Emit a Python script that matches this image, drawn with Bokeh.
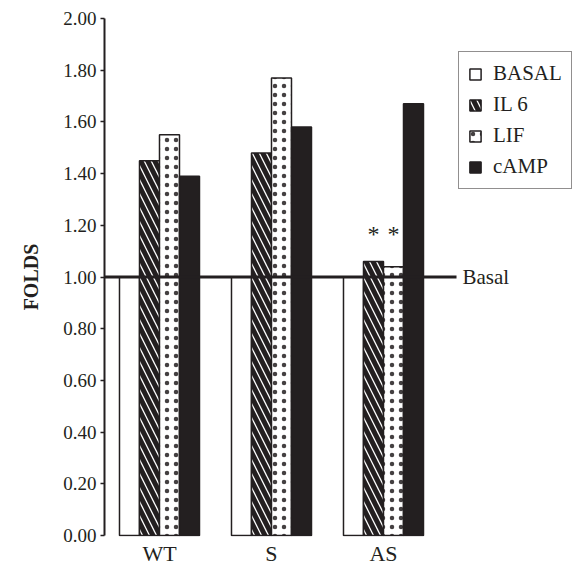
from bokeh.plotting import figure
from bokeh.models import (Range1d, FixedTicker, Legend, LegendItem, Label,
                          ColumnDataSource, CustomJSTickFormatter)
from bokeh.core.properties import value
from bokeh.embed import file_html
from bokeh.resources import INLINE

# ---- data ----
groups = ["WT", "S", "AS"]
series = ["BASAL", "IL 6", "LIF", "cAMP"]
basal_vals = [1.00, 1.00, 1.00]
il6_vals = [1.45, 1.48, 1.06]
lif_vals = [1.55, 1.77, 1.04]
camp_vals = [1.39, 1.58, 1.67]
# significance markers (per group) for IL 6 and LIF
il6_sig = ["", "", "*"]
lif_sig = ["", "", "*"]
basal_level = 1.0
y_ticks = [0.0, 0.2, 0.4, 0.6, 0.8, 1.0, 1.2, 1.4, 1.6, 1.8, 2.0]

INK = "#231f20"
FONT = "Liberation Serif"

px_per_x = 112.0
px_per_y = 259.0
x_start = -0.491
x_end = x_start + 472 / px_per_x
bw = 20 / px_per_x

p = figure(width=576, height=568, output_backend="svg", toolbar_location=None,
           x_range=Range1d(x_start, x_end),
           y_range=Range1d(-1 / px_per_y, 2.0 + 1 / px_per_y),
           min_border_left=104, min_border_right=0, min_border_top=17,
           min_border_bottom=32)
p.outline_line_color = None
p.grid.visible = False
p.background_fill_color = "white"
p.border_fill_color = "white"

gx = list(range(len(groups)))
offsets = [-1.5 * bw, -0.5 * bw, 0.5 * bw, 1.5 * bw]
vals = [basal_vals, il6_vals, lif_vals, camp_vals]
styles = [
    dict(fill_color="white"),
    dict(fill_color="white", hatch_pattern="\\", hatch_color=INK, hatch_weight=5, hatch_scale=14),
    dict(fill_color="white", hatch_pattern=".", hatch_color=INK, hatch_weight=1,
         hatch_scale=9, hatch_alpha=0.85),
    dict(fill_color=INK),
]
renderers = []
for off, v, st in zip(offsets, vals, styles):
    src = ColumnDataSource(dict(x=[g + off for g in gx], top=v))
    r = p.vbar(x="x", top="top", bottom=0, width=bw, source=src,
               line_color=INK, line_width=1.5, **st)
    renderers.append(r)

# basal reference line
basal_end = 2.652
p.segment(x0=[x_start], x1=[basal_end], y0=[basal_level], y1=[basal_level],
          line_color=INK, line_width=3)
p.add_layout(Label(x=basal_end, y=basal_level, x_offset=6, text="Basal",
                   text_font=FONT, text_font_size="21px", text_color=INK,
                   text_baseline="middle"))

# significance stars, placed at a common height above the group's marked bars
xs, ys, ts = [], [], []
for gi in gx:
    marked = [(off, v[gi], s[gi]) for off, v, s in
              [(offsets[1], il6_vals, il6_sig), (offsets[2], lif_vals, lif_sig)] if s[gi]]
    if marked:
        top = max(m[1] for m in marked)
        for off, _, s in marked:
            xs.append(gi + off)
            ys.append(top)
            ts.append(s)
p.text(x=xs, y=ys, text=ts, y_offset=-14, text_align="center",
       text_baseline="bottom", text_font=value(FONT), text_font_size="24px",
       text_color=INK)

# y axis
ya = p.yaxis[0]
ya.ticker = FixedTicker(ticks=y_ticks)
ya.formatter = CustomJSTickFormatter(code="return tick.toFixed(2);")
ya.bounds = (0, 2)
ya.axis_line_width = 2
ya.axis_line_color = INK
ya.major_tick_line_color = INK
ya.major_tick_line_width = 1.5
ya.major_tick_out = 4
ya.major_tick_in = 0
ya.minor_tick_line_color = None
ya.major_label_text_font = FONT
ya.major_label_text_font_size = "19px"
ya.major_label_text_color = INK
ya.major_label_standoff = 4
ya.axis_label = "FOLDS"
ya.axis_label_text_font = FONT
ya.axis_label_text_font_style = "bold"
ya.axis_label_text_font_size = "20px"
ya.axis_label_text_color = INK
ya.axis_label_standoff = 18

# x axis
xa = p.xaxis[0]
xa.ticker = FixedTicker(ticks=gx)
xa.major_label_overrides = {g: n for g, n in zip(gx, groups)}
xa.axis_line_color = None
xa.major_tick_line_color = None
xa.minor_tick_line_color = None
xa.major_tick_out = 0
xa.major_tick_in = 0
xa.major_label_text_font = FONT
xa.major_label_text_font_size = "22px"
xa.major_label_text_color = INK
xa.major_label_standoff = 4

legend = Legend(items=[LegendItem(label=s, renderers=[r]) for s, r in zip(series, renderers)],
                location=(354, 347))
legend.border_line_color = INK
legend.border_line_width = 1
legend.background_fill_color = "white"
legend.background_fill_alpha = 1
legend.label_text_font = FONT
legend.label_text_font_size = "21px"
legend.label_text_color = INK
legend.glyph_width = 14
legend.glyph_height = 14
legend.label_height = 24
legend.spacing = 6
legend.padding = 9
legend.margin = 0
legend.label_standoff = 11
p.add_layout(legend, "center")

open("out.html", "w").write(file_html(p, INLINE))
